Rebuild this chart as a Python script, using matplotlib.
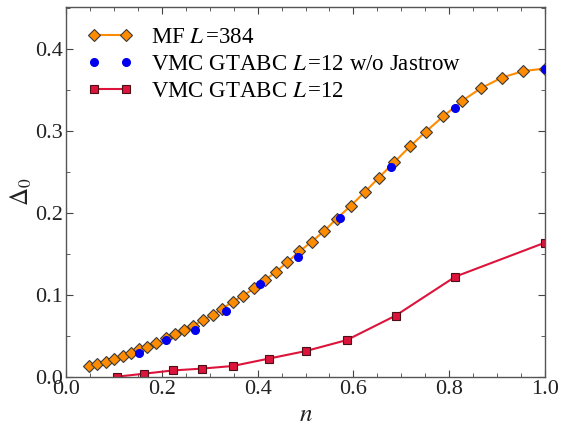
import matplotlib
matplotlib.use("Agg")
import matplotlib.pyplot as plt
from matplotlib.ticker import MultipleLocator

plt.rcParams['font.family'] = ['Liberation Serif', 'DejaVu Serif']
plt.rcParams['mathtext.fontset'] = 'stix'

# Mean-field gap, L=384
mf_n = [0.049, 0.065, 0.083, 0.100, 0.118, 0.135, 0.152, 0.170, 0.188, 0.209,
        0.228, 0.247, 0.266, 0.286, 0.306, 0.326, 0.348, 0.370, 0.393, 0.415,
        0.438, 0.462, 0.487, 0.513, 0.539, 0.565, 0.594, 0.624, 0.653, 0.685,
        0.718, 0.751, 0.788, 0.827, 0.866, 0.910, 0.955, 1.000]
mf_d = [0.0134, 0.0160, 0.0187, 0.0215, 0.0256, 0.0290, 0.0337, 0.0370, 0.0410, 0.0470,
        0.0520, 0.0570, 0.0626, 0.0695, 0.0756, 0.0830, 0.0920, 0.0990, 0.1085, 0.1180,
        0.1280, 0.1400, 0.1530, 0.1650, 0.1780, 0.1930, 0.2085, 0.2256, 0.2430, 0.2617,
        0.2810, 0.2990, 0.3180, 0.3366, 0.3520, 0.3650, 0.3730, 0.3760]

# VMC GTABC, L=12, without Jastrow factor
nj_n = [0.152, 0.209, 0.269, 0.334, 0.405, 0.484, 0.572, 0.678, 0.813, 1.000]
nj_d = [0.0297, 0.0450, 0.0570, 0.0810, 0.1134, 0.1467, 0.1935, 0.2565, 0.3276, 0.3750]

# VMC GTABC, L=12
vmc_n = [0.106, 0.163, 0.223, 0.283, 0.348, 0.423, 0.501, 0.586, 0.688, 0.813, 1.000]
vmc_d = [0.0004, 0.0040, 0.0080, 0.0102, 0.0134, 0.0224, 0.0317, 0.0450, 0.0748, 0.1224, 0.1638]

labels = [r'MF $L\,$=384',
          r'VMC GTABC $L\,$=12 w/o Jastrow',
          r'VMC GTABC $L\,$=12']

fig = plt.figure(figsize=(5.74, 4.26), dpi=100)
ax = fig.add_axes([0.115, 0.115, 0.8345, 0.8685])

l_vmc, = ax.plot(vmc_n, vmc_d, '-', color='#dc143c', lw=1.5, marker='s', ms=6,
                 mfc='#dc143c', mec='#4a1018', mew=0.8, zorder=2)
l_mf, = ax.plot(mf_n, mf_d, '-', color='#ff8c00', lw=1.5, marker='D', ms=6,
                mfc='#ff8c00', mec='#3a3a3a', mew=0.8, zorder=3)
l_nj, = ax.plot(nj_n, nj_d, 'o', color='#0000ee', ms=5.5, mec='#0000ee', zorder=4)

ax.set_xlim(0.0, 1.0)
ax.set_ylim(0.0, 0.451)
ax.xaxis.set_major_locator(MultipleLocator(0.2))
ax.xaxis.set_minor_locator(MultipleLocator(0.05))
ax.yaxis.set_major_locator(MultipleLocator(0.1))
ax.yaxis.set_minor_locator(MultipleLocator(0.05))
ax.xaxis.set_major_formatter(plt.FuncFormatter(lambda v, p: f'{v:.1f}'))
ax.yaxis.set_major_formatter(plt.FuncFormatter(lambda v, p: f'{v:.1f}'))

ax.tick_params(which='both', direction='in', top=True, right=True,
               colors='#444444', labelcolor='#222222', labelsize=16)
ax.tick_params(which='major', length=5, width=0.8, pad=2)
ax.tick_params(which='minor', length=3, width=0.6)
for s in ax.spines.values():
    s.set_color('#555555')
    s.set_linewidth(1.0)

ax.set_xlabel(r'$n$', fontsize=18, labelpad=3.5, color='#222222')
ax.set_ylabel(r'$\Delta_0$', fontsize=18, labelpad=1, color='#222222')

ax.legend([l_mf, l_nj, l_vmc], labels, loc='upper left', frameon=False,
          fontsize=16.5, numpoints=2, handlelength=2.0, handletextpad=0.8,
          labelspacing=0.25, borderaxespad=0.4, bbox_to_anchor=(0.005, 0.995))

fig.savefig('out.png', dpi=100)
